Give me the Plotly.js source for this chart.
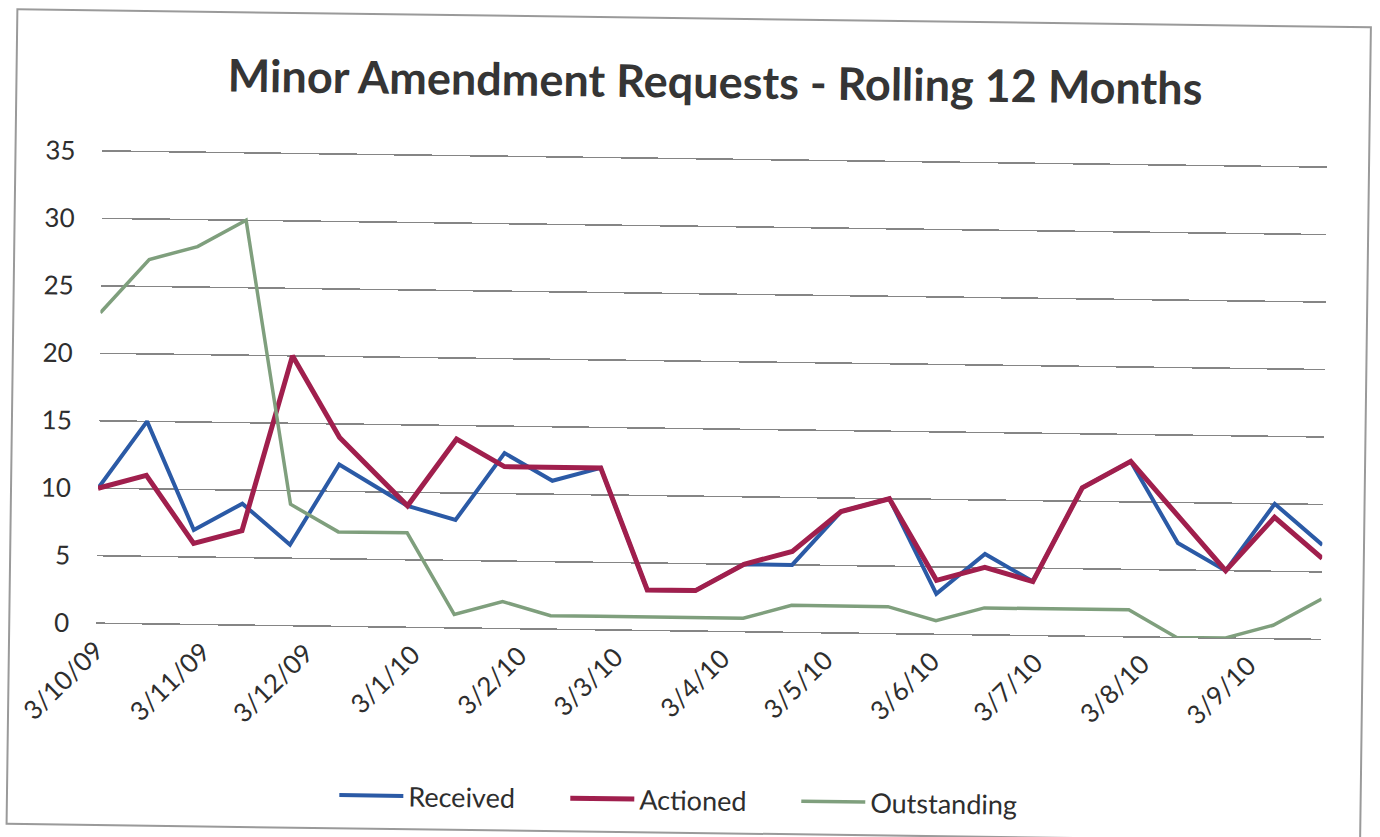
<!DOCTYPE html>
<html>
<head>
<meta charset="utf-8">
<script src="https://cdn.plot.ly/plotly-3.0.1.min.js"></script>
<style>
  html, body { margin: 0; padding: 0; background: #ffffff; }
  #chart {
    width: 1380px;
    height: 837px;
    transform: rotate(0.76deg);
    transform-origin: 690px 418px;
  }
</style>
</head>
<body>
<div id="chart"></div>
<script>
// Fortnightly reporting dates
const dates = [
  '2009-10-03', '2009-10-17', '2009-10-31', '2009-11-14', '2009-11-28', '2009-12-12',
  '2010-01-01', '2010-01-15', '2010-01-29', '2010-02-12', '2010-02-26', '2010-03-12',
  '2010-03-26', '2010-04-09', '2010-04-23', '2010-05-07', '2010-05-21', '2010-06-04',
  '2010-06-18', '2010-07-02', '2010-07-16', '2010-07-30', '2010-08-13', '2010-08-27',
  '2010-09-10', '2010-09-24'
];

const received = [10, 15, 7, 9, 6, 12, 9, 8, 13, 11, 12, 3, 3, 5, 5, 9, 10, 3, 6, 4, 11, 13, 7, 5, 10, 7];
const actioned = [10, 11, 6, 7, 20, 14, 9, 14, 12, 12, 12, 3, 3, 5, 6, 9, 10, 4, 5, 4, 11, 13, 9, 5, 9, 6];
const outstanding = [23, 27, 28, 30, 9, 7, 7, 1, 2, 1, 1, 1, 1, 1, 2, 2, 2, 1, 2, 2, 2, 2, 0, 0, 1, 3];

const seriesNames = ['Received', 'Actioned', 'Outstanding'];
const yTicks = [0, 5, 10, 15, 20, 25, 30, 35];

const FONT = 'Lato, "Open Sans", sans-serif';

const traces = [
  { x: dates, y: received, name: seriesNames[0], type: 'scatter', mode: 'lines',
    line: { color: '#2b5aa6', width: 4 } },
  { x: dates, y: actioned, name: seriesNames[1], type: 'scatter', mode: 'lines',
    line: { color: '#a01f4d', width: 5 } },
  { x: dates, y: outstanding, name: seriesNames[2], type: 'scatter', mode: 'lines',
    line: { color: '#7f9f7d', width: 3.5 } }
];

const layout = {
  width: 1380,
  height: 837,
  margin: { l: 99, r: 56, t: 155.8, b: 206 },
  paper_bgcolor: '#ffffff',
  plot_bgcolor: '#ffffff',
  font: { family: FONT, color: '#2e2e2e', size: 25 },
  title: {
    text: 'Minor Amendment Requests - Rolling 12 Months',
    font: { family: FONT, size: 45, weight: 700, color: '#353535' },
    x: 0.515, xanchor: 'center', xref: 'container',
    y: 0.902, yanchor: 'middle', yref: 'container'
  },
  xaxis: {
    type: 'date',
    range: [dates[0], dates[dates.length - 1]],
    tick0: dates[0],
    dtick: 'M1',
    tickformat: '%-d/%-m/%y',
    tickangle: -45,
    showgrid: false,
    zeroline: false,
    showline: false,
    ticks: '',
    tickfont: { family: FONT, size: 26, color: '#2e2e2e' },
    ticklabelstandoff: 6
  },
  yaxis: {
    range: [0, 35.2],
    tickvals: yTicks,
    showgrid: true,
    gridcolor: '#858585',
    gridwidth: 1.5,
    zeroline: true,
    zerolinecolor: '#858585',
    zerolinewidth: 1.5,
    showline: false,
    ticks: '',
    ticklabelstandoff: 26,
    tickfont: { family: FONT, size: 26, color: '#2e2e2e' }
  },
  showlegend: true,
  legend: {
    orientation: 'h',
    xref: 'container', yref: 'container',
    x: 0.497, xanchor: 'center',
    y: 0.044, yanchor: 'middle',
    font: { family: FONT, size: 27, color: '#2e2e2e' },
    itemwidth: 64,
    entrywidth: 152,
    entrywidthmode: 'pixels',
    traceorder: 'normal'
  },
  shapes: [
    { type: 'rect', xref: 'paper', yref: 'paper',
      x0: -0.071, x1: 1.034, y0: -0.425, y1: 1.29,
      line: { color: '#9a9a9a', width: 2 }, layer: 'below' }
  ]
};

Plotly.newPlot('chart', traces, layout, { displayModeBar: false, staticPlot: true });
</script>
</body>
</html>
